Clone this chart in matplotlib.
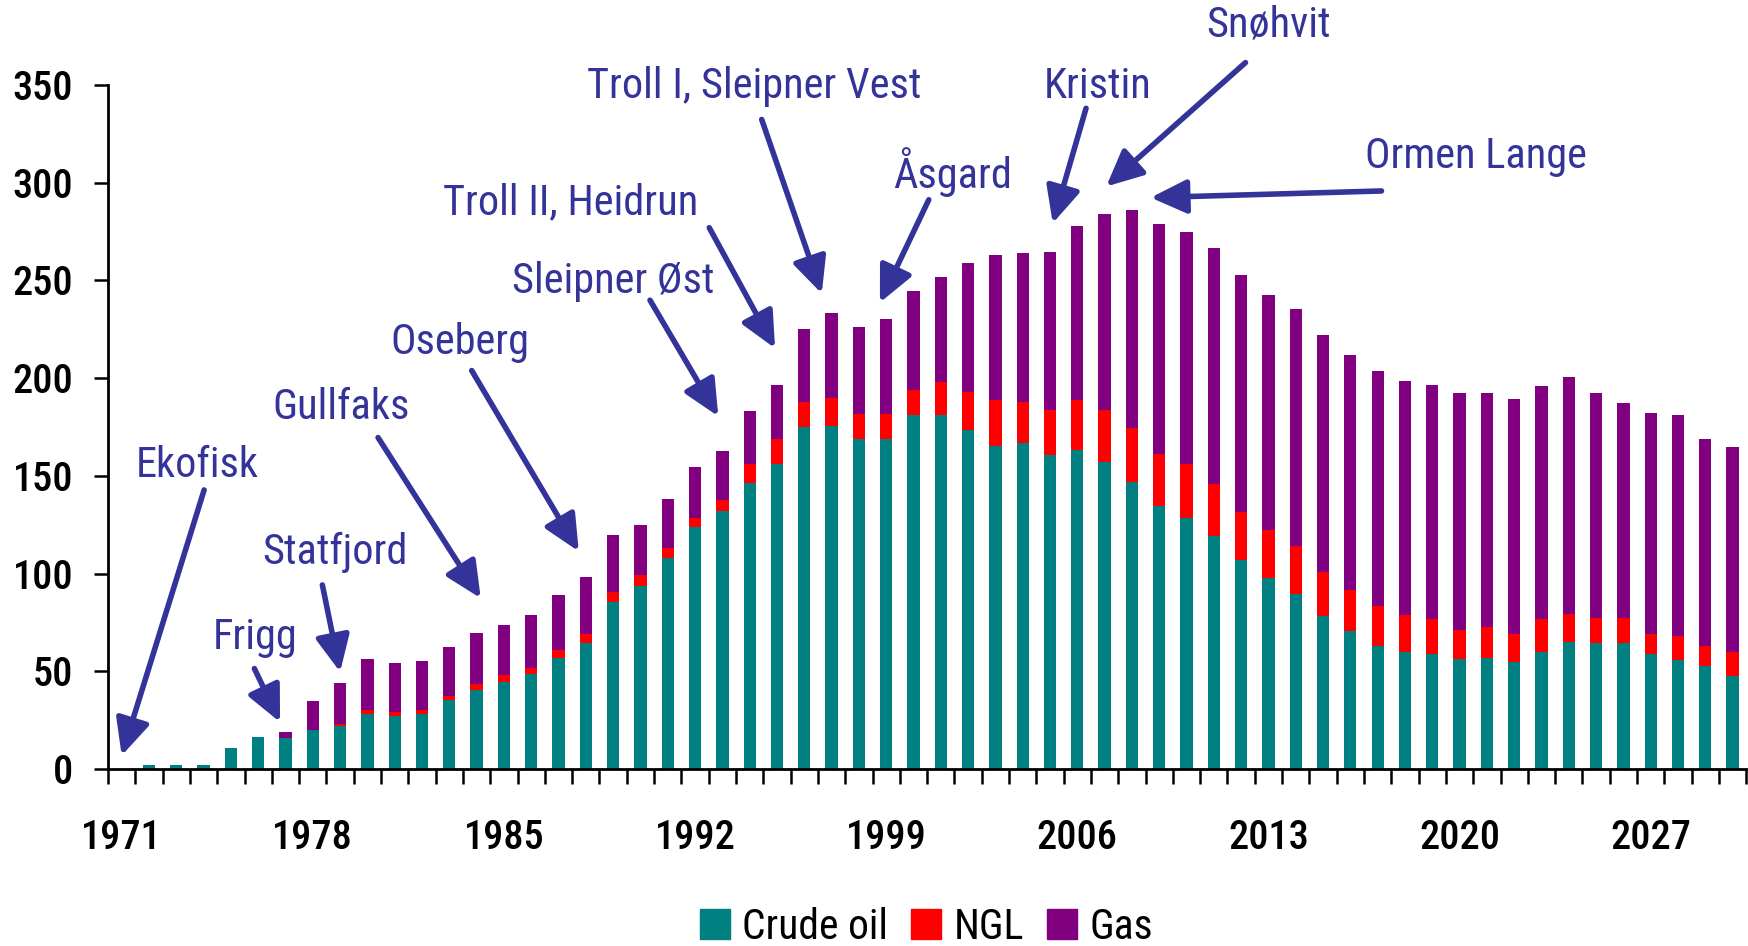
import numpy as np
import matplotlib
matplotlib.use("Agg")
import matplotlib.pyplot as plt
from matplotlib.patches import Patch

#%%
### Data (Mill. Sm3 o.e.) ###
years = list(range(1971, 2031))

crude_oil = [0, 2.2, 2.2, 2.2, 10.9, 16.5, 16.0, 20.0, 22.1, 28.2,
             27.2, 28.2, 35.3, 40.4, 44.5, 48.6, 56.7, 64.5, 85.5, 93.7,
             108.1, 123.9, 131.8, 146.1, 156.2, 175.0, 175.6, 168.9, 168.9, 181.3,
             181.3, 173.6, 165.5, 167.0, 160.9, 163.4, 157.3, 146.9, 134.6, 128.5,
             119.1, 106.8, 97.5, 89.4, 78.3, 70.7, 63.1, 59.7, 58.8, 56.3,
             56.7, 54.6, 59.7, 65.2, 64.3, 64.3, 58.8, 55.8, 52.9, 47.8]

ngl = [0, 0, 0, 0, 0, 0, 0, 0, 1.0, 2.2,
       2.0, 2.2, 2.1, 3.1, 3.5, 3.0, 4.1, 4.4, 5.3, 5.6,
       5.0, 4.6, 5.9, 10.1, 12.7, 13.0, 14.4, 12.8, 12.8, 12.7,
       16.9, 19.4, 23.4, 21.0, 22.9, 25.5, 26.5, 27.6, 26.6, 27.5,
       26.8, 24.6, 25.0, 24.6, 22.5, 20.8, 20.3, 19.1, 17.8, 14.8,
       16.1, 14.4, 16.9, 14.0, 12.8, 12.8, 10.2, 12.4, 10.2, 11.9]

gas = [0, 0, 0, 0, 0, 0, 3.0, 14.8, 20.9, 25.8,
       25.0, 24.8, 24.9, 25.9, 25.5, 27.0, 28.0, 29.1, 28.9, 25.7,
       25.1, 26.1, 25.1, 27.1, 27.7, 37.3, 43.4, 44.5, 48.6, 50.7,
       53.7, 66.0, 74.1, 76.0, 80.7, 89.1, 100.2, 111.5, 117.7, 119.0,
       120.3, 121.5, 120.2, 121.5, 121.3, 120.4, 120.2, 119.7, 120.0, 121.3,
       119.6, 120.4, 119.6, 121.4, 115.3, 110.2, 113.2, 112.9, 105.7, 105.1]

# totals of the peak years (tops)
totals_fix = {2005: 264.5, 2006: 278.0, 2007: 284.0, 2008: 286.0, 2009: 279.0,
              2010: 275.0, 2011: 266.5}
for yr, tot in totals_fix.items():
    i = years.index(yr)
    gas[i] = tot - crude_oil[i] - ngl[i]

label_years = [1971, 1978, 1985, 1992, 1999, 2006, 2013, 2020, 2027]

# field name, text position, arrow start, arrow tip (category index, value)
fields = [
    ("Ekofisk", (2.78, 155.3), (3.02, 142.8), (0.0, 6.9)),
    ("Frigg", (4.9, 67.4), (4.86, 51.4), (5.8, 24.0)),
    ("Statfjord", (7.8, 110.8), (7.35, 94.2), (8.0, 49.7)),
    ("Gullfaks", (8.04, 185.0), (9.39, 169.6), (13.15, 87.4)),
    ("Oseberg", (12.37, 218.2), (12.82, 203.9), (16.74, 111.4)),
    ("Sleipner Øst", (18.0, 249.6), (19.35, 239.9), (21.85, 180.5)),
    ("Troll II, Heidrun", (16.46, 289.5), (21.52, 277.0), (23.93, 215.3)),
    ("Troll I, Sleipner Vest", (23.15, 349.5), (23.44, 332.4), (25.64, 243.3)),
    ("Åsgard", (30.42, 305.5), (29.56, 291.3), (27.77, 238.7)),
    ("Kristin", (35.73, 349.5), (35.32, 338.1), (34.1, 279.3)),
    ("Snøhvit", (42.02, 380.9), (41.16, 361.5), (36.06, 298.1)),
    ("Ormen Lange", (49.61, 313.5), (46.14, 295.8), (37.69, 292.4)),
]

#%%
### Plot ###
plt.rcParams['font.family'] = ['Roboto Condensed', 'Archivo Narrow', 'PT Sans Narrow',
                               'IBM Plex Sans Condensed', 'DejaVu Sans']

c_oil = "#008080"
c_ngl = "#FF0000"
c_gas = "#800080"
c_note = "#333399"

fig = plt.figure(figsize=(17.48, 9.46), dpi=100)
ax = fig.add_axes([0.0618, 0.1871, 0.9372, 0.7230])

x = np.arange(len(years))
oil = np.array(crude_oil)
ng = np.array(ngl)
gs = np.array(gas)
w = 0.45
ax.bar(x, oil, w, color=c_oil, linewidth=0)
ax.bar(x, ng, w, bottom=oil, color=c_ngl, linewidth=0)
ax.bar(x, gs, w, bottom=oil + ng, color=c_gas, linewidth=0)

ax.set_xlim(-0.5, len(years) - 0.5)
ax.set_ylim(0, 350)

ax.spines["top"].set_visible(False)
ax.spines["right"].set_visible(False)
ax.spines["left"].set_linewidth(2)
ax.spines["bottom"].set_linewidth(2)

ax.set_yticks(np.arange(0, 351, 50))
ax.tick_params(axis="y", direction="out", length=10, width=1.8, pad=15,
               labelsize=29)
for t in ax.get_yticklabels():
    t.set_fontweight("medium")

ax.set_xticks([years.index(y) for y in label_years])
ax.set_xticklabels([str(y) for y in label_years], fontsize=29, fontweight="medium")
ax.set_xticks(np.arange(-0.5, len(years)), minor=True)
ax.tick_params(axis="x", which="major", length=0, pad=36)
ax.tick_params(axis="x", which="minor", direction="out", length=11, width=1.8)

for name, txt, start, tip in fields:
    ax.text(txt[0], txt[1], name, color=c_note, fontsize=30.5, ha="center",
            va="center", clip_on=False)
    ax.annotate("", xy=tip, xytext=start, annotation_clip=False,
                arrowprops=dict(arrowstyle="-|>,head_length=0.55,head_width=0.26",
                                mutation_scale=40, lw=4, color=c_note,
                                shrinkA=0, shrinkB=0))

handles = [Patch(color=c_oil, label="Crude oil"),
           Patch(color=c_ngl, label="NGL"),
           Patch(color=c_gas, label="Gas")]
fig.legend(handles=handles, loc="center", bbox_to_anchor=(0.530, 0.02),
           ncol=3, frameon=False, fontsize=30, handlelength=0.72,
           handleheight=0.72, handletextpad=0.3, columnspacing=0.55)

fig.savefig("out.png", dpi=100)
